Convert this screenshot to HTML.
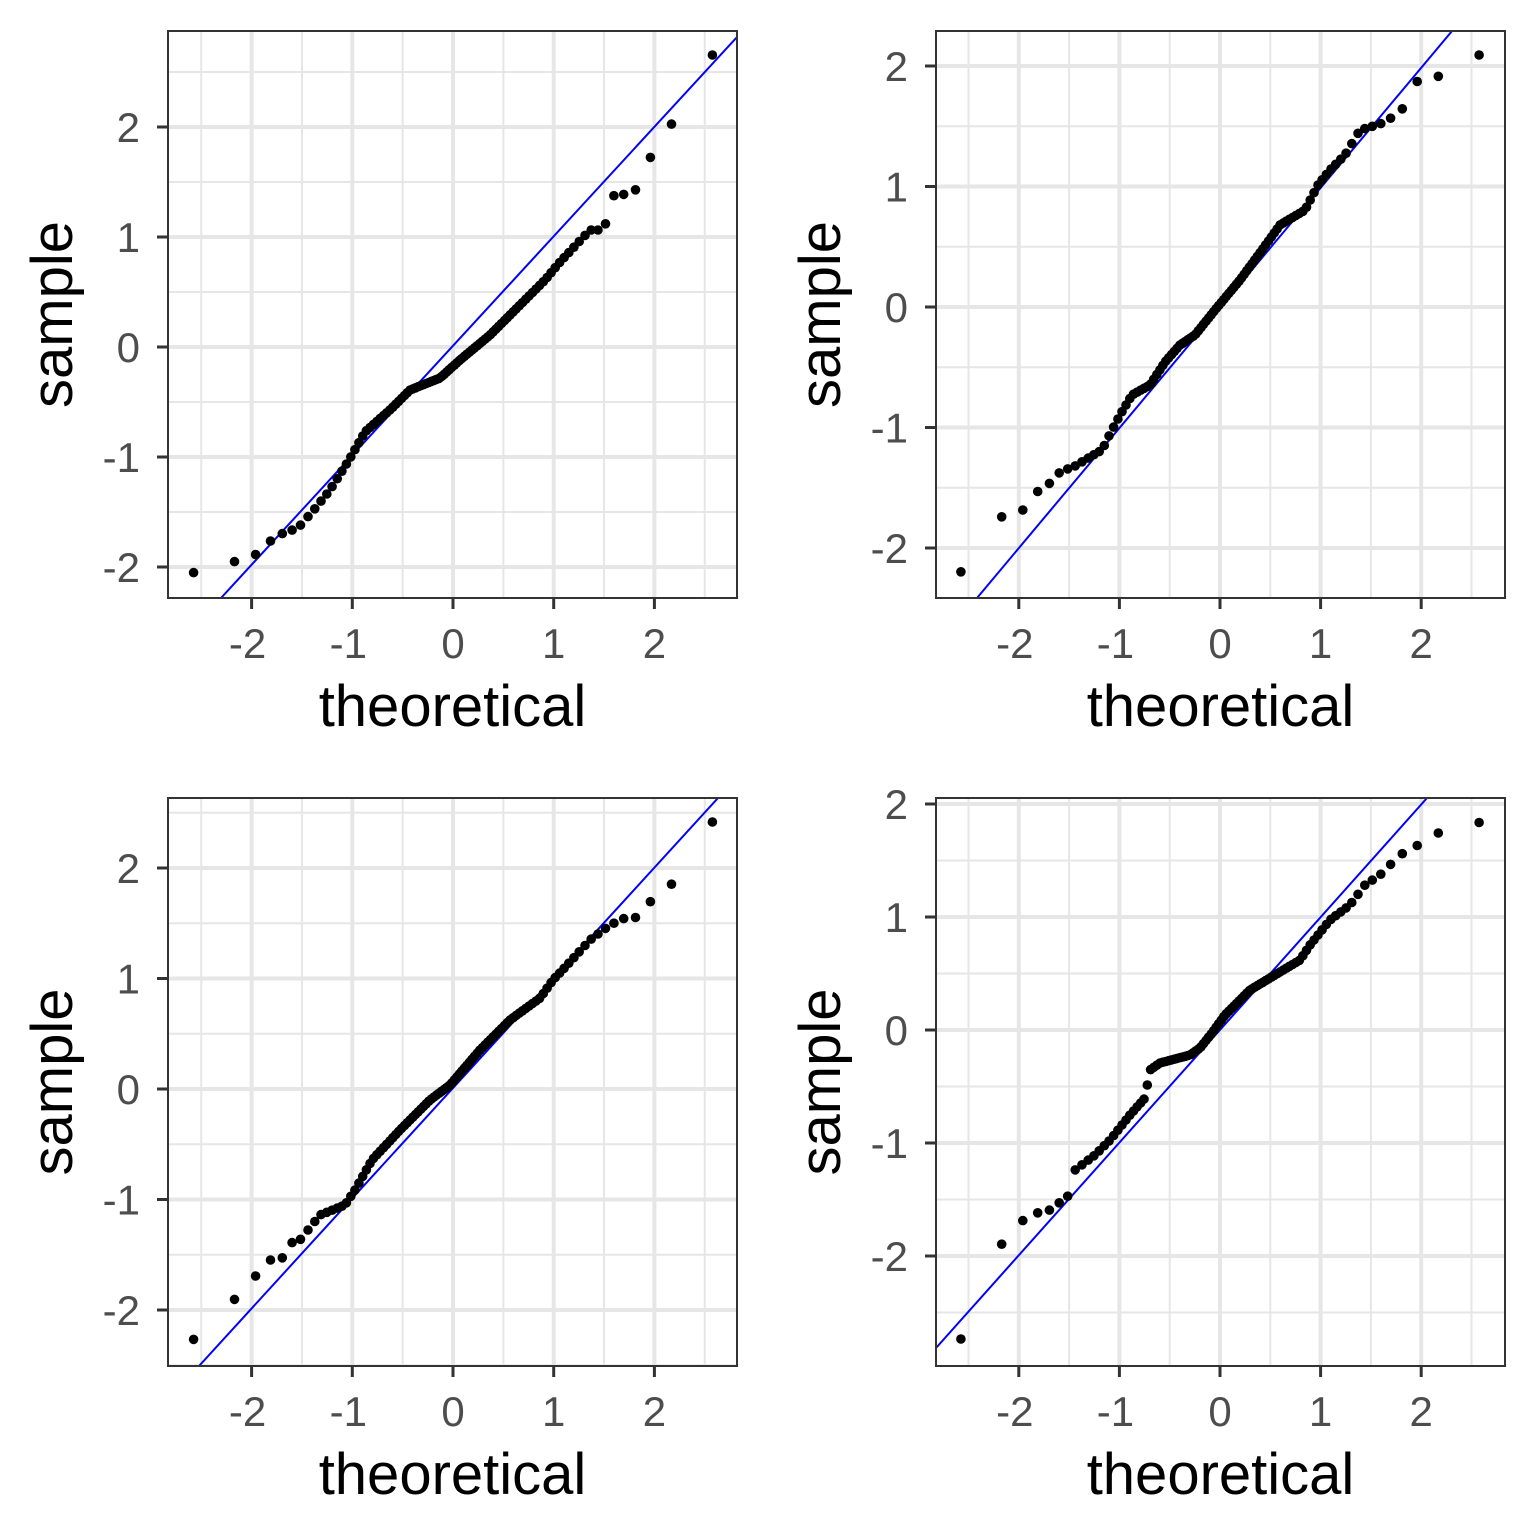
<!DOCTYPE html>
<html><head><meta charset="utf-8"><style>body{margin:0;background:#fff}svg{display:block}</style></head>
<body>
<svg id="s" width="1536" height="1536" xmlns="http://www.w3.org/2000/svg" font-family="Liberation Sans, sans-serif"></svg>
<script>
function qnorm(p){var a=[-39.69683028665376,220.9460984245205,-275.9285104469687,138.3577518672690,-30.66479806614716,2.506628277459239],b=[-54.47609879822406,161.5858368580409,-155.6989798598866,66.80131188771972,-13.28068155288572],c=[-0.007784894002430293,-0.3223964580411365,-2.400758277161838,-2.549732539343734,4.374664141464968,2.938163982698783],d=[0.007784695709041462,0.3224671290700398,2.445134137142996,3.754408661907416],q,r;
if(p<0.02425){q=Math.sqrt(-2*Math.log(p));return(((((c[0]*q+c[1])*q+c[2])*q+c[3])*q+c[4])*q+c[5])/((((d[0]*q+d[1])*q+d[2])*q+d[3])*q+1);}
if(p>1-0.02425){q=Math.sqrt(-2*Math.log(1-p));return-(((((c[0]*q+c[1])*q+c[2])*q+c[3])*q+c[4])*q+c[5])/((((d[0]*q+d[1])*q+d[2])*q+d[3])*q+1);}
q=p-0.5;r=q*q;return(((((a[0]*r+a[1])*r+a[2])*r+a[3])*r+a[4])*r+a[5])*q/(((((b[0]*r+b[1])*r+b[2])*r+b[3])*r+b[4])*r+1);}
var P=[
{L:168,R:737,T:31,B:598,x0:453,xs:100.7,y0:347,ys:110,line:[221,598,737,37],
k:[[192,573],[233,562],[254,556],[269,542],[281,534],[298,528],[313,511],[330,490],[349,460],[365,432],[392,408],[410,390],[440,378],[460,360],[490,335],[520,305],[545,280],[560,262],[590,230],[604,230],[612,196],[634,193],[650,158],[671,125],[712,55]]},
{L:936,R:1505,T:31,B:598,x0:1220,xs:100.6,y0:307,ys:120.5,line:[977,598,1452,31],
k:[[960,573],[1001,517],[1022,511],[1037,492],[1050,483],[1060,472],[1075,466],[1090,457],[1102,450],[1112,430],[1120,415],[1132,395],[1150,385],[1165,362],[1180,345],[1195,335],[1215,310],[1240,280],[1262,250],[1280,225],[1305,210],[1318,185],[1330,170],[1345,155],[1360,130],[1380,124],[1400,113],[1418,80],[1440,76],[1481,54]]},
{L:168,R:737,T:798,B:1366,x0:453,xs:100.7,y0:1089,ys:110.5,line:[199,1366,718,798],
k:[[192,1341],[233,1301],[254,1278],[269,1260],[281,1260],[291,1243],[300,1240],[320,1215],[345,1205],[355,1190],[372,1160],[400,1130],[430,1100],[450,1085],[480,1050],[510,1020],[540,998],[553,980],[570,962],[590,940],[610,925],[625,918],[635,918],[650,902],[671,885],[712,822]]},
{L:936,R:1505,T:798,B:1366,x0:1220,xs:100.6,y0:1030,ys:113,line:[936,1348,1427,798],
k:[[960,1341],[1001,1245],[1022,1221],[1037,1213],[1050,1210],[1068,1196],[1075,1170],[1095,1155],[1110,1140],[1130,1115],[1145,1098],[1150,1070],[1160,1063],[1190,1055],[1200,1048],[1212,1033],[1225,1015],[1250,990],[1275,975],[1300,960],[1310,945],[1330,920],[1350,905],[1365,885],[1380,875],[1400,855],[1418,845],[1440,832],[1481,822]]}];
var h='';
P.forEach(function(p,pi){
 var cid='c'+pi;
 h+='<clipPath id="'+cid+'"><rect x="'+p.L+'" y="'+p.T+'" width="'+(p.R-p.L)+'" height="'+(p.B-p.T)+'"/></clipPath>';
 h+='<rect x="'+p.L+'" y="'+p.T+'" width="'+(p.R-p.L)+'" height="'+(p.B-p.T)+'" fill="#fff"/>';
 for(var v=-3;v<=3;v+=0.5){var mj=(v%1===0);
  var x=p.x0+v*p.xs; if(x>p.L&&x<p.R)h+='<line x1="'+x+'" x2="'+x+'" y1="'+p.T+'" y2="'+p.B+'" stroke="#e6e6e6" stroke-width="'+(mj?4:2)+'"/>';
  var y=p.y0-v*p.ys; if(y>p.T&&y<p.B)h+='<line y1="'+y+'" y2="'+y+'" x1="'+p.L+'" x2="'+p.R+'" stroke="#e6e6e6" stroke-width="'+(mj?4:2)+'"/>';}
 h+='<line x1="'+p.line[0]+'" y1="'+p.line[1]+'" x2="'+p.line[2]+'" y2="'+p.line[3]+'" stroke="#0000ff" stroke-width="2" clip-path="url(#'+cid+')"/>';
 var k=p.k;
 for(var i=1;i<=100;i++){var q=qnorm((i-0.5)/100);var x=p.x0+q*p.xs;var y;
  if(x<=k[0][0])y=k[0][1];else if(x>=k[k.length-1][0])y=k[k.length-1][1];
  else for(var j=0;j<k.length-1;j++){if(x>=k[j][0]&&x<=k[j+1][0]){var t=(x-k[j][0])/(k[j+1][0]-k[j][0]||1);y=k[j][1]+t*(k[j+1][1]-k[j][1]);break;}}
  h+='<circle cx="'+x.toFixed(1)+'" cy="'+y.toFixed(1)+'" r="4.8" fill="#000"/>';}
 h+='<rect x="'+p.L+'" y="'+p.T+'" width="'+(p.R-p.L)+'" height="'+(p.B-p.T)+'" fill="none" stroke="#333" stroke-width="2"/>';
 for(var v=-2;v<=2;v++){
  var x=p.x0+v*p.xs;h+='<line x1="'+x+'" x2="'+x+'" y1="'+p.B+'" y2="'+(p.B+11)+'" stroke="#333" stroke-width="3"/>';
  h+='<text x="'+(v<0?x-4:x)+'" y="'+(p.B+60)+'" font-size="42" fill="#4d4d4d" text-anchor="middle">'+v+'</text>';
  var y=p.y0-v*p.ys;if(y>=p.T&&y<=p.B){h+='<line x1="'+(p.L-11)+'" x2="'+p.L+'" y1="'+y+'" y2="'+y+'" stroke="#333" stroke-width="3"/>';
  h+='<text x="'+(p.L-28)+'" y="'+(y+15)+'" font-size="42" fill="#4d4d4d" text-anchor="end">'+v+'</text>';}}
 var cx=(p.L+p.R)/2;
 h+='<text x="'+cx+'" y="'+(p.B+128)+'" font-size="58" fill="#000" text-anchor="middle">theoretical</text>';
 var cy=(p.T+p.B)/2;var tx=p.L-96;
 h+='<text x="'+tx+'" y="'+cy+'" font-size="58" fill="#000" text-anchor="middle" transform="rotate(-90 '+tx+' '+cy+')">sample</text>';
});
document.getElementById('s').innerHTML=h;
</script>
</body></html>
